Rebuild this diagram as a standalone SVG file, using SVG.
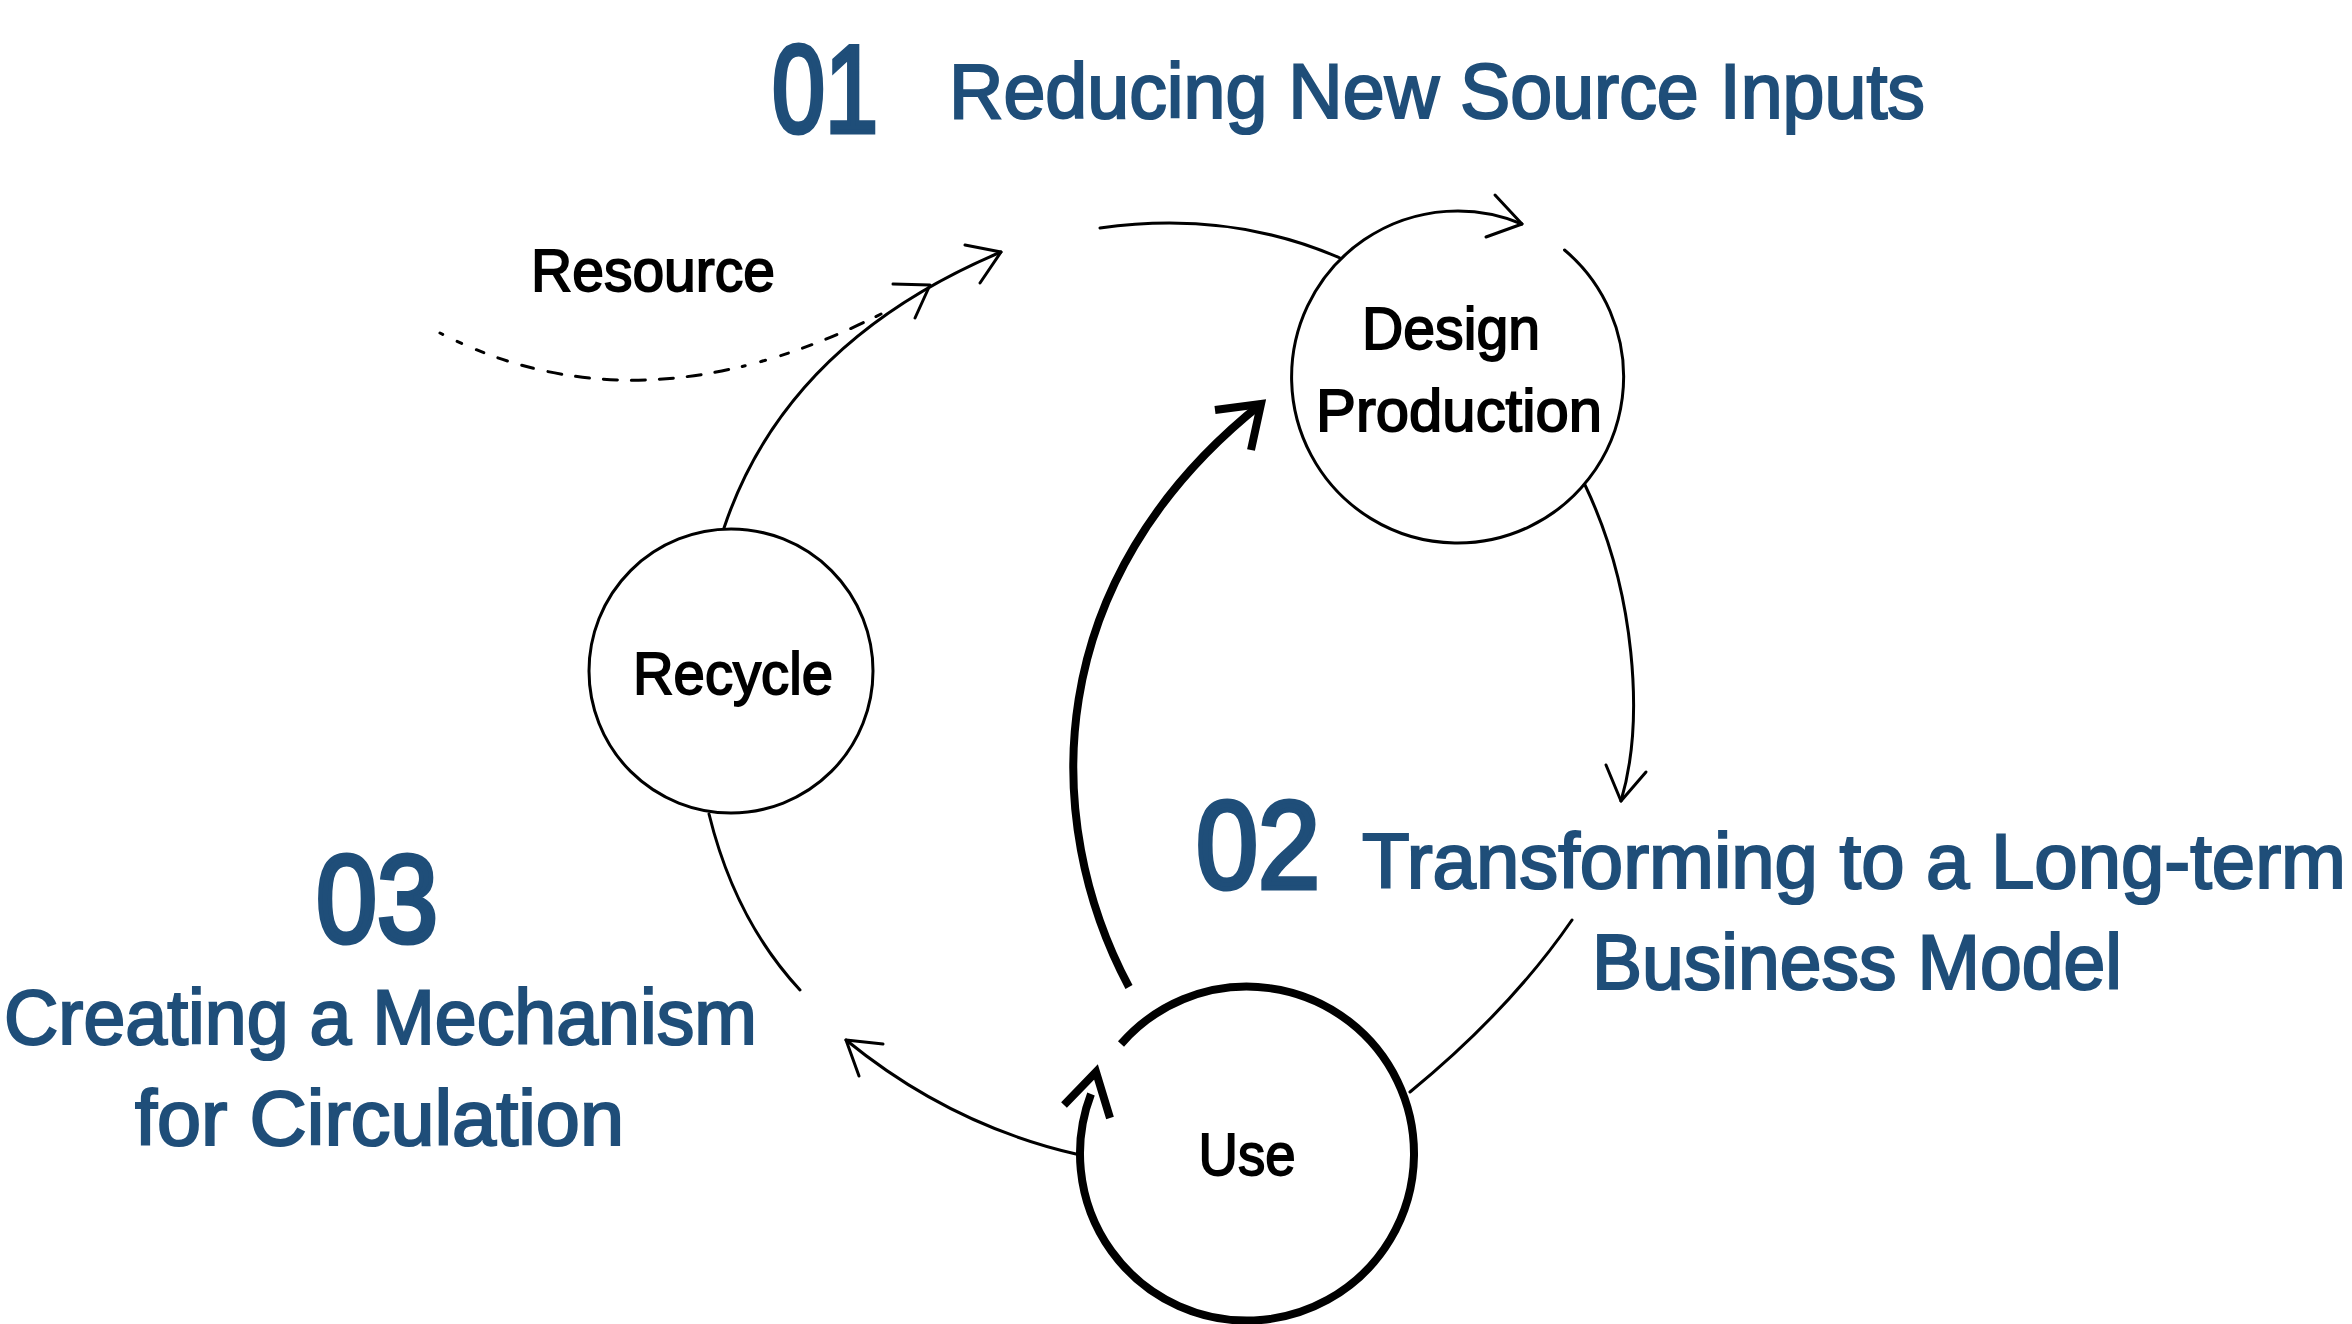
<svg xmlns="http://www.w3.org/2000/svg" width="2352" height="1324" viewBox="0 0 2352 1324">
<style>
.blue{fill:#1f4e79;stroke:#1f4e79;stroke-width:2.2;font-family:"Liberation Sans","DejaVu Sans",sans-serif}
.num{stroke-width:5}
.lbl{fill:#000;stroke:#000;stroke-width:1.8;font-family:"Liberation Sans","DejaVu Sans",sans-serif;font-size:60px}
.thin{fill:none;stroke:#000;stroke-width:3;stroke-linecap:round;stroke-linejoin:round}
.thick{fill:none;stroke:#000;stroke-width:8;stroke-linejoin:miter}
</style>
<rect width="2352" height="1324" fill="#fff"/>
<g id="titles">
<text class="blue num" x="772" y="132" font-size="124" textLength="106" lengthAdjust="spacingAndGlyphs">01</text>
<text class="blue" x="949" y="118" font-size="78" textLength="976" lengthAdjust="spacingAndGlyphs">Reducing New Source Inputs</text>
<text class="blue num" x="1196" y="888" font-size="124" textLength="124" lengthAdjust="spacingAndGlyphs">02</text>
<text class="blue" x="1362" y="888" font-size="77" textLength="984" lengthAdjust="spacingAndGlyphs">Transforming to a Long-term</text>
<text class="blue" x="1592" y="989" font-size="77" textLength="530" lengthAdjust="spacingAndGlyphs">Business Model</text>
<text class="blue num" x="316" y="942" font-size="124" textLength="122" lengthAdjust="spacingAndGlyphs">03</text>
<text class="blue" x="4" y="1044" font-size="77" textLength="753" lengthAdjust="spacingAndGlyphs">Creating a Mechanism</text>
<text class="blue" x="135" y="1145" font-size="77" textLength="489" lengthAdjust="spacingAndGlyphs">for Circulation</text>
</g>
<g id="connectors">
<path class="thin" d="M440,333 Q640,436 881,314" stroke-dasharray="3 16 5 16 8 15 10 15 12 15 14 14 14 14 14 14 14 14 14 14 14 14 14 14"/>
<text class="lbl" x="531" y="291" textLength="244" lengthAdjust="spacingAndGlyphs">Resource</text>
<path class="thin" d="M724,528 C760,420 840,320 1001,252"/>
<path class="thin" d="M893,284 L930,285 L915,318"/>
<path class="thin" d="M965,245 L1001,252 L980,283"/>
<path class="thin" d="M1100,228 Q1230,210 1340,258"/>
<path class="thin" d="M1495,195 L1522,224 L1486,237"/>
<path class="thin" d="M1585,485 C1635,590 1645,720 1621,801"/>
<path class="thin" d="M1606,765 L1621,801 L1646,772"/>
<path class="thin" d="M1410,1092 Q1510,1010 1572,920"/>
<path class="thin" d="M1076,1154 Q950,1125 846,1040"/>
<path class="thin" d="M883,1044 L846,1040 L859,1076"/>
<path class="thin" d="M709,814 Q735,920 800,990"/>
<path class="thick" d="M1129,987 C1040,820 1040,580 1261,404"/>
<path class="thick" d="M1215,410 L1261,404 L1251,450"/>
<path class="thick" d="M1064,1105 L1096,1072 L1110,1118"/>
</g>
<g id="node-design">
<path class="thin" d="M1564.5,250 A166,166 0 1 1 1522,224"/>
<text class="lbl" x="1451" y="349" text-anchor="middle" textLength="178" lengthAdjust="spacingAndGlyphs">Design</text>
<text class="lbl" x="1459" y="431" text-anchor="middle" textLength="286" lengthAdjust="spacingAndGlyphs">Production</text>
</g>
<g id="node-recycle">
<circle class="thin" cx="731" cy="671" r="142"/>
<text class="lbl" x="733" y="694" text-anchor="middle" textLength="200" lengthAdjust="spacingAndGlyphs">Recycle</text>
</g>
<g id="node-use">
<path class="thick" d="M1121,1044 A167,167 0 1 1 1091,1094"/>
<text class="lbl" x="1247" y="1175" text-anchor="middle" textLength="97" lengthAdjust="spacingAndGlyphs">Use</text>
</g>
</svg>
